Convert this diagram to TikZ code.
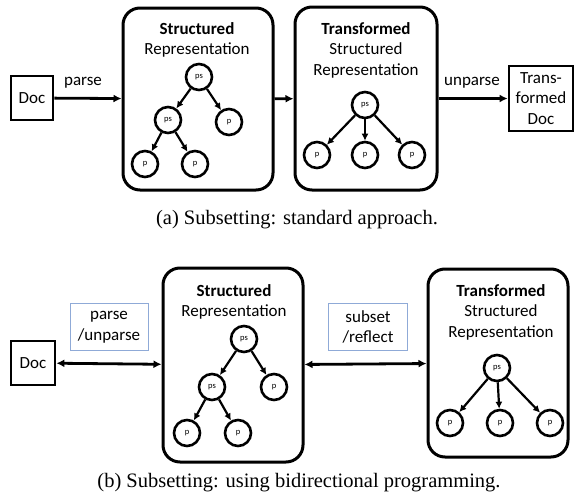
\documentclass[tikz,border=0pt]{standalone}
\usepackage{fontspec}
\setmainfont{Carlito}
\newfontfamily\capfont{Liberation Serif}
\usetikzlibrary{arrows.meta}

\begin{document}
\begin{tikzpicture}[x=1pt,y=-1pt,
  txt/.style={font=\fontsize{17}{20.5}\selectfont,align=center,inner sep=0pt},
  repbox/.style={draw,line width=3pt,rounded corners=17pt},
  docbox/.style={draw,line width=2.8pt,inner sep=0pt,font=\fontsize{17}{20.5}\selectfont,align=center},
  lblbox/.style={draw=lblue,line width=0.9pt,inner sep=0pt,font=\fontsize{17}{20.5}\selectfont,align=center},
  tnode/.style={draw,circle,line width=2.6pt,minimum size=26pt,inner sep=0pt,font=\fontsize{8.5}{10}\selectfont},
  tedge/.style={line width=2.2pt,-{Latex[length=7pt,width=7pt]}},
  flow/.style={line width=2.8pt,-{Latex[length=8pt,width=8pt]}},
  bflow/.style={line width=2.8pt,{Latex[length=8pt,width=8pt]}-{Latex[length=8pt,width=8pt]}},
  captxt/.style={font=\capfont\fontsize{20.5}{24}\selectfont,inner sep=0pt}]
\definecolor{lblue}{RGB}{143,170,215}
\useasboundingbox (0,0) rectangle (574,498);

% (a)
\node [docbox,minimum width=42pt,minimum height=44pt] (docA) at (32,98) {Doc};
\node [txt] (parse) at (83,83) {parse};
\node [repbox,minimum width=150pt,minimum height=182pt] (sA) at (198,99) {};
\node [txt] (sAt) at (197,40) {\textbf{Structured}\\Representation};
\node [tnode] (rA) at (199,77) {ps};
\node [tnode] (cA) at (168,120) {ps};
\node [tnode] (pA) at (229,122) {p};
\node [tnode] (lA) at (145,164) {p};
\node [tnode] (mA) at (195,164) {p};
\draw [tedge] (rA) -- (cA);
\draw [tedge] (rA) -- (pA);
\draw [tedge] (cA) -- (lA);
\draw [tedge] (cA) -- (mA);
\node [repbox,minimum width=142pt,minimum height=183pt] (tA) at (366,98.5) {};
\node [txt] (tAt) at (366,50) {\textbf{Transformed}\\Structured\\Representation};
\node [tnode] (rtA) at (365,105) {ps};
\node [tnode] (atA) at (317,155) {p};
\node [tnode] (btA) at (365,155) {p};
\node [tnode] (ctA) at (412,155) {p};
\draw [tedge] (rtA) -- (atA);
\draw [tedge] (rtA) -- (btA);
\draw [tedge] (rtA) -- (ctA);
\node [txt] (unparse) at (472,83) {unparse};
\node [docbox,minimum width=64pt,minimum height=65pt] (tdocA) at (541,98.5) {Trans-\\formed\\Doc};
\draw [flow] (docA) -- (sA);
\draw [flow] (sA) -- (tA);
\draw [flow] (tA) -- (tdocA);
\node [captxt] (capA) at (297,220) {(a) Subsetting: standard approach.};

% (b)
\node [docbox,minimum width=44pt,minimum height=44pt] (docB) at (33,363) {Doc};
\node [lblbox,minimum width=78pt,minimum height=47pt] (pu) at (109,327) {parse\\/unparse};
\node [repbox,minimum width=140pt,minimum height=194pt] (sB) at (233,365) {};
\node [txt] (sBt) at (234,302) {\textbf{Structured}\\Representation};
\node [tnode] (rB) at (244,339) {ps};
\node [tnode] (cB) at (212,387) {ps};
\node [tnode] (pB) at (274,387) {p};
\node [tnode] (lB) at (187,433) {p};
\node [tnode] (mB) at (238,433) {p};
\draw [tedge] (rB) -- (cB);
\draw [tedge] (rB) -- (pB);
\draw [tedge] (cB) -- (lB);
\draw [tedge] (cB) -- (mB);
\node [lblbox,minimum width=79pt,minimum height=47pt] (sr) at (368,327) {subset\\/reflect};
\node [repbox,minimum width=140pt,minimum height=188pt] (tB) at (498,363) {};
\node [txt] (tBt) at (501,312) {\textbf{Transformed}\\Structured\\Representation};
\node [tnode] (rtB) at (497,368) {ps};
\node [tnode] (atB) at (450,423) {p};
\node [tnode] (btB) at (500,423) {p};
\node [tnode] (ctB) at (550,423) {p};
\draw [tedge] (rtB) -- (atB);
\draw [tedge] (rtB) -- (btB);
\draw [tedge] (rtB) -- (ctB);
\draw [bflow] (docB) -- (sB);
\draw [bflow] (sB) -- (tB);
\node [captxt] (capB) at (299,483) {(b) Subsetting: using bidirectional programming.};

\end{tikzpicture}
\end{document}
